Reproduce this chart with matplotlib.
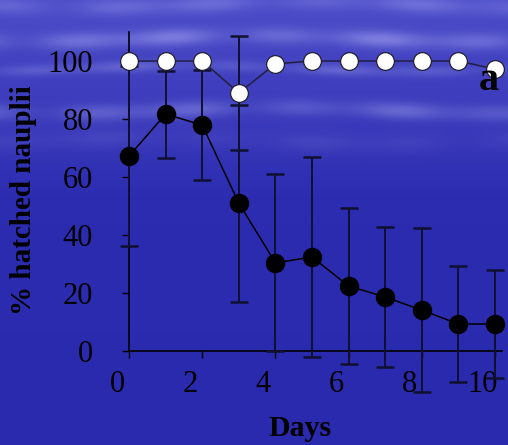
import numpy as np
import matplotlib
matplotlib.use("Agg")
import matplotlib.pyplot as plt
from matplotlib.transforms import ScaledTranslation

# ---- data ----
days = [0, 1, 2, 3, 4, 5, 6, 7, 8, 9, 10]
black_mean = [67.2, 81.7, 77.9, 51.0, 30.4, 32.4, 22.4, 18.6, 14.1, 9.3, 9.3]
black_err = [31.0, 15.0, 19.0, 34.0, 30.5, 34.5, 27.0, 24.0, 28.3, 20.0, 18.7]
white_mean = [100, 100, 100, 89.0, 99.0, 100, 100, 100, 100, 100, 97.2]
white_err = [0, 0, 0, 19.7, 0, 0, 0, 0, 0, 0, 0]
xticks = [0, 2, 4, 6, 8, 10]
yticks = [0, 20, 40, 60, 80, 100]

W, H, DPI = 508, 445, 100
plt.rcParams['font.family'] = ['Liberation Serif', 'DejaVu Serif']

fig = plt.figure(figsize=(W / DPI, H / DPI), dpi=DPI)

# ---- background (blue gradient with light streaks) ----
yy, xx = np.mgrid[0:H, 0:W].astype(float)
t = np.clip(yy / 200.0, 0, 1)
base = np.stack([
    76 - 30 * t - 4 * (yy / H),
    76 - 30 * t - 4 * (yy / H),
    200 - 20 * t - 6 * (yy / H),
], axis=-1)
streaks = np.zeros((H, W))
for yc, sig, amp, ph in [(4, 6, 35, 0.3), (38, 6, 55, 1.1), (68, 4, 35, 2.0),
                         (110, 6, 45, 0.7), (140, 7, 15, 2.5)]:
    mod = 0.6 + 0.4 * np.sin(xx / 55.0 + ph) * np.cos(xx / 23.0 + 2 * ph)
    streaks += amp * mod * np.exp(-0.5 * ((yy - yc - 3 * np.sin(xx / 70.0 + ph)) / sig) ** 2)
bg = base.copy()
bg[..., 0] += streaks
bg[..., 1] += streaks
bg[..., 2] += streaks * 0.5
bg = np.clip(bg, 0, 255) / 255.0
bax = fig.add_axes([0, 0, 1, 1], zorder=-10)
bax.imshow(bg, aspect='auto', extent=[0, 1, 0, 1], interpolation='bilinear')
bax.axis('off')

# ---- main axes ----
left, right = 129 / W, 502 / W
bottom, top = (H - 351) / H, (H - 32) / H
ax = fig.add_axes([left, bottom, right - left, top - bottom])
ax.patch.set_alpha(0)
ax.set_xlim(0, 10.19)
ax.set_ylim(0, 110)
for s in ['top', 'right']:
    ax.spines[s].set_visible(False)
for s in ['left', 'bottom']:
    ax.spines[s].set_linewidth(1.2)
    ax.spines[s].set_color('black')

ekw = dict(fmt='none', ecolor='#101030', elinewidth=1.4, capsize=6.2,
           capthick=1.8, clip_on=False, zorder=3)
eb1 = ax.errorbar(days, black_mean, yerr=black_err, **ekw)
eb2 = ax.errorbar(days, white_mean, yerr=white_err, **ekw)
for eb in (eb1, eb2):
    for c in eb.lines[1]:
        c.set_color('black')
        c.set_clip_on(False)
    for c in eb.lines[2]:
        c.set_clip_on(False)

ax.plot(days, black_mean, '-o', color='black', lw=1.1, ms=13,
        mfc='black', mec='black', clip_on=False, zorder=4)
ax.plot(days, white_mean, '-o', color='#202040', lw=1.1, ms=12.8,
        mfc='white', mec='#202030', mew=0.9, clip_on=False, zorder=5)

ax.set_xticks(xticks)
ax.set_xticklabels([str(v) for v in xticks])
ax.set_yticks(yticks)
ax.set_yticklabels([str(v) for v in yticks])
ax.tick_params(axis='both', direction='out', length=5, width=1.0,
               colors='black', labelsize=22)
ax.tick_params(axis='y', pad=21)
ax.tick_params(axis='x', pad=9)
for lbl in ax.get_xticklabels():
    lbl.set_transform(lbl.get_transform() + ScaledTranslation(-12 / DPI, 0, fig.dpi_scale_trans))

# ---- labels ----
fig.text(24 / W, 1 - 200 / H, '% hatched nauplii', rotation=90, ha='center',
         va='center', fontsize=21, fontweight='bold')
fig.text(300 / W, 1 - 428 / H, 'Days', ha='center', va='center',
         fontsize=21.5, fontweight='bold')
fig.text(489 / W, 1 - 80 / H, 'a', ha='center', va='center',
         fontsize=29, fontweight='bold', zorder=10)

fig.savefig('out.png', dpi=DPI)
